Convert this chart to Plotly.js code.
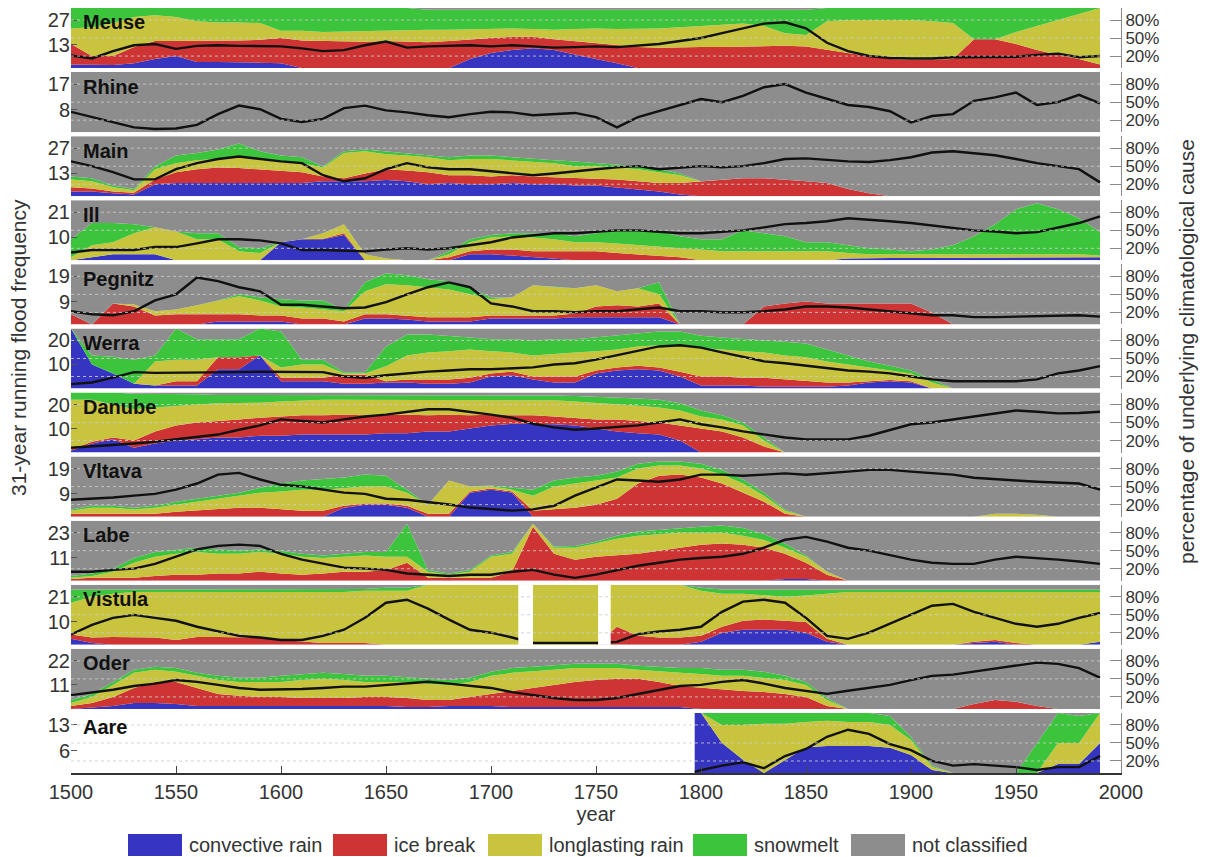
<!DOCTYPE html>
<html>
<head>
<meta charset="utf-8">
<script src="https://cdn.plot.ly/plotly-3.0.1.min.js"></script>
<style>html,body{margin:0;padding:0;background:#fff;}#chart{width:1209px;height:857px;}</style>
</head>
<body>
<div id="chart"></div>
<script>
// ---------------- DATA ----------------
const YEARS = [1500,1510,1520,1530,1540,1550,1560,1570,1580,1590,
               1600,1610,1620,1630,1640,1650,1660,1670,1680,1690,
               1700,1710,1720,1730,1740,1750,1760,1770,1780,1790,
               1800,1810,1820,1830,1840,1850,1860,1870,1880,1890,
               1900,1910,1920,1930,1940,1950,1960,1970,1980,1990];
const AARE_YEARS = [1797,1800,1810,1820,1830,1840,1850,1860,1870,1880,1890,
                    1900,1910,1920,1930,1940,1950,1960,1970,1980,1990];
const X_TICKS = [1500,1550,1600,1650,1700,1750,1800,1850,1900,1950,2000];
const PCT_TICKS = [20,50,80];
const PCT_LABELS = ['20%','50%','80%'];

const RIVERS = ['Meuse','Rhine','Main','Ill','Pegnitz','Werra','Danube','Vltava','Labe','Vistula','Oder','Aare'];
// left-axis tick labels (running flood frequency) per river
const FREQ_TICKS = [[13,27],[8,17],[13,27],[10,21],[9,19],[10,20],[10,20],[9,19],[11,23],[10,21],[11,22],[6,13]];

const CATEGORIES = ['convective rain','ice break','longlasting rain','snowmelt','not classified'];
const CAT_COLORS = ['#3535c2','#cf3434','#c9c43e','#3cc43c','#8d8d8d'];

// Band values are cumulative upper edges in % (convective <= ice <= longlasting <= snowmelt); the rest is "not classified".
const meuseFreq = [7.1,5.4,9.5,12.8,13.5,10.8,12.5,12.8,12.5,12.5, 12.2,11.1,9.5,10.1,12.8,14.9,11.5,12.2,12.5,12.8, 12.2,12.8,12.2,11.5,11.8,12.2,11.8,12.5,13.5,15.2, 16.9,19.6,22.3,25.0,25.7,22.3,14.2,9.5,6.8,5.7, 5.4,5.4,6.1,6.1,6.4,6.4,7.4,8.1,6.1,6.8];
const meuseConv = [6,6,5,8,15,20,10,10,10,9, 8,0,0,0,0,0,0,0,0,15, 25,30,33,30,22,15,8,0,0,0, 0,0,0,0,0,0,0,0,0,0, 0,0,0,0,0,0,0,0,0,0];
const meuseIce  = [40,20,20,35,45,45,45,46,46,47, 50,46,45,45,44,45,44,43,45,48, 50,52,52,48,45,42,38,35,34,35, 35,35,36,37,37,36,30,25,20,15, 14,14,15,48,48,40,30,22,15,6];
const meuseLong = [66,68,75,85,88,85,78,76,76,75, 62,62,60,61,62,62,63,64,64,65, 66,66,65,64,65,66,65,65,66,68, 70,72,74,70,58,55,78,80,80,80, 80,78,75,48,48,60,70,80,90,100];
const meuseSnow = [100,100,100,100,100,100,100,100,100,100, 100,100,100,100,100,100,100,97,97,97, 97,97,97,97,97,97,97,97,97,97, 97,97,97,97,97,97,100,100,100,100, 100,100,100,100,100,100,100,100,100,100];

const rhineFreq = [7.2,5.3,3.6,1.7,1.1,1.3,2.6,6.4,9.4,8.1, 4.7,3.6,4.7,8.5,9.4,7.7,7.0,6.0,5.3,6.4, 7.2,7.0,6.0,6.4,6.8,5.3,1.7,5.3,7.4,9.6, 11.7,10.6,12.8,15.9,17.0,14.0,11.7,9.6,8.9,7.4, 3.4,5.7,6.4,11.1,12.3,14.0,9.6,10.6,13.2,10.2];
const rhineConv = [0,0,0,0,0,0,0,0,0,0, 0,0,0,0,0,0,0,0,0,0, 0,0,0,0,0,0,0,0,0,0, 0,0,0,0,0,0,0,0,0,0, 0,0,0,0,0,0,0,0,0,0];
const rhineIce  = [0,0,0,0,0,0,0,0,0,0, 0,0,0,0,0,0,0,0,0,0, 0,0,0,0,0,0,0,0,0,0, 0,0,0,0,0,0,0,0,0,0, 0,0,0,0,0,0,0,0,0,0];
const rhineLong = [0,0,0,0,0,0,0,0,0,0, 0,0,0,0,0,0,0,0,0,0, 0,0,0,0,0,0,0,0,0,0, 0,0,0,0,0,0,0,0,0,0, 0,0,0,0,0,0,0,0,0,0];
const rhineSnow = [0,0,0,0,0,0,0,0,0,0, 0,0,0,0,0,0,0,0,0,0, 0,0,0,0,0,0,0,0,0,0, 0,0,0,0,0,0,0,0,0,0, 0,0,0,0,0,0,0,0,0,0];

const mainFreq = [19.6,16.9,13.5,9.5,9.5,15.2,18.6,20.9,22.3,20.9, 19.6,18.6,11.8,8.4,10.1,15.2,18.6,16.2,15.2,15.2, 14.2,12.8,11.8,12.8,14.2,15.2,16.2,16.9,15.2,16.2, 16.9,16.2,16.9,18.6,20.9,21.3,20.3,19.6,19.2,20.3, 21.9,24.6,25.3,24.3,23.0,20.9,18.6,16.9,15.2,7.8];
const mainConv = [8,8,5,3,20,22,22,22,21,21, 21,22,25,25,25,27,25,20,22,20, 20,22,20,20,18,18,15,12,8,3, 0,0,0,0,0,0,0,0,0,0, 0,0,0,0,0,0,0,0,0,0];
const mainIce  = [15,13,8,6,28,40,45,48,47,45, 42,40,33,30,38,45,43,40,35,35, 33,35,33,32,30,30,28,25,22,22, 25,28,30,30,28,25,22,12,5,0, 0,0,0,0,0,0,0,0,0,0];
const mainLong = [28,25,15,10,45,55,60,62,65,62, 58,55,48,72,75,70,68,65,60,62, 62,60,58,55,50,50,48,45,40,35, 25,28,30,30,28,25,22,12,5,0, 0,0,0,0,0,0,0,0,0,0];
const mainSnow = [33,30,18,12,50,68,72,78,88,75, 68,65,50,75,78,75,72,68,65,68, 68,65,62,60,58,55,52,50,45,38, 25,28,30,30,28,25,22,12,5,0, 0,0,0,0,0,0,0,0,0,0];

const illFreq = [3.4,4.5,4.5,4.5,5.8,5.8,7.4,9.2,9.2,8.7, 7.4,4.5,4.5,4.2,3.9,4.7,5.3,4.7,5.3,6.6, 7.9,10.0,11.0,11.8,11.8,12.6,13.1,13.1,12.6,11.8, 11.8,12.6,13.1,14.4,15.8,16.3,17.1,18.4,17.9,17.1, 16.3,15.2,14.4,13.1,12.6,11.8,12.3,14.4,16.3,19.2];
const illConv = [0,5,10,10,10,0,0,0,0,0, 30,35,35,42,0,0,0,0,0,10, 10,8,5,3,0,0,0,0,0,0, 0,0,0,0,0,0,0,3,4,4, 4,4,4,4,4,5,5,5,5,5];
const illIce  = [0,5,10,10,10,0,0,0,0,0, 30,35,36,45,0,0,0,0,5,15, 18,18,15,15,15,15,12,10,8,5, 0,0,0,0,0,0,0,3,4,4, 4,4,4,4,4,5,5,5,5,5];
const illLong = [5,25,30,45,55,48,35,35,15,12, 30,35,45,60,10,3,0,0,10,30, 38,40,38,35,30,30,28,25,22,20, 18,15,15,15,15,15,15,12,10,10, 10,10,10,10,10,10,10,10,10,8];
const illSnow = [35,62,62,60,55,48,45,45,22,20, 30,35,45,60,10,3,0,0,15,35, 42,45,45,45,40,45,50,50,48,40, 35,35,50,45,40,30,30,25,20,18, 15,18,25,40,60,85,95,85,70,47];

const pegnitzFreq = [5.2,4.0,3.6,5.2,9.5,11.9,18.5,17.1,14.7,13.1, 7.8,7.8,7.1,6.4,6.7,8.8,11.9,14.7,16.6,14.7, 8.3,7.1,5.2,5.2,4.8,5.2,5.2,5.9,6.7,5.2, 5.2,4.8,4.8,5.2,5.9,7.1,7.1,6.7,5.9,5.2, 4.3,3.6,3.6,2.9,2.9,3.1,3.1,3.6,3.6,3.1];
const pegnitzConv = [0,0,0,0,0,0,0,5,5,5, 5,0,0,0,10,10,8,5,5,5, 10,10,10,10,12,12,12,12,12,0, 0,0,0,0,0,0,0,0,0,0, 0,0,0,0,0,0,0,0,0,0];
const pegnitzIce  = [17,0,35,30,15,17,17,17,17,15, 15,10,10,5,17,17,15,12,12,12, 15,15,15,15,18,30,32,30,35,0, 0,0,0,30,35,38,35,35,35,35, 35,20,0,0,0,0,0,0,0,0];
const pegnitzLong = [17,0,35,33,22,25,32,40,47,40, 30,28,25,22,55,67,65,62,58,50, 42,45,65,62,60,65,55,60,50,0, 0,0,0,30,35,38,35,35,35,35, 35,20,0,0,0,0,0,0,0,0];
const pegnitzSnow = [17,0,35,33,22,25,32,40,50,45, 42,40,40,25,70,85,82,75,72,60, 45,45,65,62,60,65,55,60,70,0, 0,0,0,30,35,38,35,35,35,35, 35,20,0,0,0,0,0,0,0,0];

const werraFreq = [1.8,2.5,4.5,6.8,6.5,6.5,6.8,6.8,6.8,7.0, 7.0,7.0,6.8,5.0,4.5,5.5,6.3,7.0,7.5,8.0, 8.0,8.3,8.8,10.0,10.5,12.0,13.8,15.5,17.5,18.0, 17.0,15.0,13.0,11.3,10.5,9.5,8.8,7.5,7.0,6.3, 5.0,3.8,3.0,3.0,3.0,3.0,3.8,6.3,7.5,9.3];
const werraConv = [100,40,25,8,5,5,5,32,32,55, 12,12,12,8,8,10,10,8,8,10, 20,22,15,10,10,25,30,32,30,20, 5,5,5,3,3,3,3,5,10,12, 10,0,0,0,0,0,0,0,0,0];
const werraIce  = [100,40,25,8,5,12,12,52,52,55, 18,18,18,23,23,12,15,15,15,18, 25,28,20,20,20,30,35,38,35,28, 20,20,18,18,15,12,10,10,12,14, 12,0,0,0,0,0,0,0,0,0];
const werraLong = [100,40,25,8,45,48,48,52,52,55, 35,40,40,25,25,37,55,60,62,65, 62,60,55,58,60,62,65,70,72,70, 68,65,62,60,55,52,45,40,35,30, 25,10,0,0,0,0,0,0,0,0];
const werraSnow = [100,55,53,48,55,100,82,82,82,100, 95,48,48,27,27,70,90,90,88,85, 82,82,80,82,82,85,88,92,95,95, 88,85,82,80,78,75,65,55,45,38, 30,15,0,0,0,0,0,0,0,0];

const danubeFreq = [2.0,2.5,3.0,3.8,4.5,5.5,6.3,7.5,9.5,11.3, 13.8,13.0,12.5,13.8,15.0,15.8,17.0,18.0,18.0,17.0, 15.8,14.5,12.0,10.5,9.5,10.0,10.5,11.3,12.5,13.8, 11.8,10.5,8.8,7.5,6.3,5.5,5.5,5.5,7.0,9.5, 11.8,12.5,13.8,15.0,16.3,17.5,17.0,16.3,16.5,17.0];
const danubeConv = [3,15,22,8,15,20,22,25,25,28, 28,30,30,30,30,32,32,35,35,40, 45,48,48,47,45,40,35,32,30,20, 0,0,0,0,0,0,0,0,0,0, 0,0,0,0,0,0,0,0,0,0];
const danubeIce  = [5,18,25,20,35,45,50,52,55,58, 60,62,62,63,62,63,63,62,63,62, 63,62,62,60,58,55,55,52,50,45, 40,35,25,10,0,0,0,0,0,0, 0,0,0,0,0,0,0,0,0,0];
const danubeLong = [88,88,80,72,75,78,80,82,82,83, 85,87,88,88,88,88,87,87,87,88, 88,88,88,87,85,83,80,78,75,70, 60,55,45,20,0,0,0,0,0,0, 0,0,0,0,0,0,0,0,0,0];
const danubeSnow = [100,100,100,98,98,97,97,96,96,95, 95,95,95,96,96,96,96,96,96,96, 96,96,96,95,94,93,92,90,88,82, 70,62,50,25,0,0,0,0,0,0, 0,0,0,0,0,0,0,0,0,0];

const vltavaFreq = [6.7,7.1,7.6,8.3,9.0,10.7,13.1,16.6,17.3,14.7, 12.6,11.9,10.7,9.5,9.0,7.1,6.7,5.9,4.8,3.6, 2.9,2.4,2.9,4.3,8.3,11.4,14.7,14.3,13.8,14.7, 16.6,16.6,16.2,16.6,17.1,16.6,17.1,17.8,18.5,18.5, 17.8,17.1,16.6,15.4,14.7,14.3,13.8,13.5,13.1,10.7];
const vltavaConv = [0,0,0,0,0,0,0,0,0,0, 0,0,0,15,20,20,15,0,0,40, 45,40,0,0,0,0,0,0,0,0, 0,0,0,0,0,0,0,0,0,0, 0,0,0,0,0,0,0,0,0,0];
const vltavaIce  = [5,5,5,5,5,8,10,12,15,15, 12,10,10,18,22,22,18,5,5,42, 47,42,10,12,15,20,30,55,68,70, 65,55,40,25,5,0,0,0,0,0, 0,0,0,0,0,0,0,0,0,0];
const vltavaLong = [10,15,15,12,15,20,25,30,35,40, 42,45,45,48,50,50,40,20,60,50, 50,45,35,50,55,60,65,80,85,85, 80,70,55,35,10,0,0,0,0,0, 0,0,0,0,5,5,3,0,0,0];
const vltavaSnow = [12,18,18,15,18,25,30,35,40,48, 55,60,62,65,70,68,45,20,60,50, 52,48,45,60,65,68,75,88,92,92, 88,78,62,40,12,0,0,0,0,0, 0,0,0,0,5,5,3,0,0,0];

const labeFreq = [4.3,4.3,5.2,5.8,8.1,11.5,15.0,16.7,17.3,16.7, 12.9,10.1,8.1,6.3,5.8,5.2,3.5,2.9,2.3,2.9, 2.9,4.3,5.2,2.9,1.4,2.9,5.2,7.2,8.6,10.1, 10.9,11.5,12.9,15.8,19.6,21.0,18.7,15.8,14.4,12.1, 10.1,8.6,8.1,8.1,10.1,11.5,10.9,10.1,9.2,8.1];
const labeConv = [0,0,0,0,0,0,0,0,0,0, 0,0,0,0,0,0,0,0,0,0, 0,0,0,0,0,0,0,0,0,0, 0,0,0,0,3,3,0,0,0,0, 0,0,0,0,0,0,0,0,0,0];
const labeIce  = [3,5,5,5,8,10,10,12,12,15, 12,10,12,15,15,18,30,5,5,5, 5,15,90,45,35,40,42,45,50,55, 60,62,60,55,45,30,10,0,0,0, 0,0,0,0,0,0,0,0,0,0];
const labeLong = [5,8,15,30,40,45,48,45,45,48, 45,40,38,40,42,40,40,15,10,15, 40,45,95,55,55,62,70,75,78,80, 80,80,75,68,55,40,15,0,0,0, 0,0,0,0,0,0,0,0,0,0];
const labeSnow = [8,12,20,38,48,52,55,52,50,52, 50,45,42,45,48,48,95,18,12,18, 42,48,95,57,58,65,75,82,85,88, 90,92,88,78,62,42,15,0,0,0, 0,0,0,0,0,0,0,0,0,0];

const vistulaFreq = [4.5,8.7,11.8,13.1,11.8,10.5,7.9,5.8,3.9,3.2, 2.1,2.1,3.9,6.6,11.8,18.4,19.7,15.8,11.0,6.6, 5.3,3.2,0.8,0.8,0.8,0.8,1.3,4.7,5.8,6.6, 7.9,14.4,18.9,19.7,18.4,11.8,3.9,2.6,5.3,9.2, 13.1,17.1,17.9,14.4,11.8,9.2,7.9,9.2,11.8,13.9];
const vistulaConv = [10,3,0,0,0,0,0,0,0,0, 0,0,0,0,0,0,0,0,0,0, 0,0,0,0,0,0,0,0,0,0, 5,20,25,25,25,20,5,0,0,0, 0,0,0,3,5,0,0,0,0,5];
const vistulaIce  = [17,12,13,13,12,8,13,13,12,12, 8,5,3,3,3,0,0,0,0,0, 0,0,0,0,0,0,30,15,12,12, 15,30,40,42,40,38,10,0,0,0, 0,0,0,5,8,3,0,0,0,5];
const vistulaLong = [70,80,85,88,88,88,88,88,88,88, 88,88,88,88,90,90,90,100,100,100, 100,100,100,100,100,100,100,100,100,100, 90,85,85,82,80,82,85,88,88,88, 88,88,88,88,88,88,88,88,88,88];
const vistulaSnow = [92,92,92,92,92,92,92,92,92,92, 92,92,92,92,93,95,95,100,100,100, 100,100,100,100,100,100,100,100,100,100, 95,92,92,92,92,92,92,92,92,92, 92,92,92,92,92,92,92,92,92,92];
const VISTULA_GAPS = [[1713,1720],[1751,1757]];

const oderFreq = [6.3,7.4,8.8,10.5,11.6,13.2,12.4,11.0,9.6,8.8, 8.8,9.1,9.6,10.2,10.2,11.0,11.6,12.4,11.6,10.5, 9.6,7.7,6.3,5.0,4.1,4.1,5.0,6.9,8.8,10.5, 11.0,12.4,13.2,11.6,9.6,8.3,6.9,8.3,9.6,11.0, 13.2,15.1,15.7,17.1,18.7,19.8,21.2,20.6,18.7,14.3];
const oderConv = [0,3,5,10,10,8,5,5,5,5, 5,5,5,5,5,5,3,3,5,5, 5,3,3,3,3,3,3,3,3,3, 0,0,0,0,0,0,0,0,0,0, 0,0,0,0,0,0,0,0,0,0];
const oderIce  = [5,10,20,35,45,45,35,25,22,20, 20,18,18,18,20,20,18,15,15,20, 25,30,35,40,45,48,50,50,45,38, 35,32,30,28,25,20,5,0,0,0, 0,0,0,8,15,12,5,0,0,0];
const oderLong = [10,20,40,60,65,62,55,48,45,45, 45,48,50,48,45,45,45,42,40,45, 55,60,62,65,68,68,68,65,62,60, 58,55,55,52,48,40,15,0,0,0, 0,0,0,8,15,12,5,0,0,0];
const oderSnow = [15,25,45,65,70,68,60,55,52,52, 55,58,60,58,55,55,52,50,48,52, 62,68,70,72,75,75,75,72,70,68, 68,65,65,62,55,45,18,0,0,0, 0,0,0,8,15,12,5,0,0,0];

const aareFreq = [0.3,0.8,2.0,2.9,1.3,4.6,6.5,9.8,11.7,10.6,7.8, 6.2,3.3,2.0,2.4,2.0,1.6,0.8,1.6,1.6,4.6];
const aareConv = [100,100,50,22,0,22,43,45,45,45,42, 30,5,0,0,0,0,0,15,15,50];
const aareIce  = [100,100,50,22,0,22,43,45,45,45,42, 30,5,0,0,0,0,0,15,15,50];
const aareLong = [100,100,80,80,82,82,85,87,85,85,80, 55,10,0,0,0,0,0,50,50,100];
const aareSnow = [100,100,100,100,100,100,100,100,100,100,95, 60,12,0,0,0,0,50,100,95,100];

// ---------------- BUILD ----------------
const SERIES = [
  {years: YEARS, freq: meuseFreq, bands: [meuseConv, meuseIce, meuseLong, meuseSnow]},
  {years: YEARS, freq: rhineFreq, bands: [rhineConv, rhineIce, rhineLong, rhineSnow]},
  {years: YEARS, freq: mainFreq, bands: [mainConv, mainIce, mainLong, mainSnow]},
  {years: YEARS, freq: illFreq, bands: [illConv, illIce, illLong, illSnow]},
  {years: YEARS, freq: pegnitzFreq, bands: [pegnitzConv, pegnitzIce, pegnitzLong, pegnitzSnow]},
  {years: YEARS, freq: werraFreq, bands: [werraConv, werraIce, werraLong, werraSnow]},
  {years: YEARS, freq: danubeFreq, bands: [danubeConv, danubeIce, danubeLong, danubeSnow]},
  {years: YEARS, freq: vltavaFreq, bands: [vltavaConv, vltavaIce, vltavaLong, vltavaSnow]},
  {years: YEARS, freq: labeFreq, bands: [labeConv, labeIce, labeLong, labeSnow]},
  {years: YEARS, freq: vistulaFreq, bands: [vistulaConv, vistulaIce, vistulaLong, vistulaSnow], gaps: VISTULA_GAPS},
  {years: YEARS, freq: oderFreq, bands: [oderConv, oderIce, oderLong, oderSnow]},
  {years: AARE_YEARS, freq: aareFreq, bands: [aareConv, aareIce, aareLong, aareSnow]}
];

const FONT = 'Liberation Sans, Arial, Helvetica, sans-serif';
const TXT = '#333333';
const W = 1209, H = 857;
const M = {l: 71, r: 88, t: 8, b: 84};
const PW = W - M.l - M.r, PH = H - M.t - M.b;
const px = v => (v - M.l) / PW;
const py = v => 1 - (v - M.t) / PH;

const n = RIVERS.length;
const GAP = 4;
const panelH = (PH - GAP * (n - 1)) / n;

const traces = [];
const shapes = [];
const annotations = [];
const layout = {
  width: W, height: H,
  margin: M,
  paper_bgcolor: '#ffffff',
  plot_bgcolor: 'rgba(0,0,0,0)',
  showlegend: false,
  font: {family: FONT, color: TXT, size: 20},
  xaxis: {
    range: [1500, 2000], tickvals: X_TICKS, ticks: 'inside', ticklen: 7, tickcolor: '#444',
    showline: true, linecolor: '#333', linewidth: 1.5, showgrid: false, zeroline: false,
    tickfont: {size: 20, color: TXT, family: FONT},
    anchor: 'y' + (2 * (n - 1) + 1),
    title: {text: 'year', font: {size: 20, color: TXT, family: FONT}, standoff: 2}
  }
};

const gridShapes = [];
RIVERS.forEach((name, i) => {
  const k1 = 2 * i + 1, k2 = 2 * i + 2;
  const pctId = k1 === 1 ? 'y' : 'y' + k1;
  const freqId = 'y' + k2;
  const topPx = i * (panelH + GAP);
  const domain = [1 - (topPx + panelH) / PH, 1 - topPx / PH];
  const s = SERIES[i];
  const ft = FREQ_TICKS[i];

  layout[k1 === 1 ? 'yaxis' : 'yaxis' + k1] = {
    domain: domain, range: [0, 100], side: 'right', anchor: 'x',
    tickvals: PCT_TICKS, ticktext: PCT_LABELS, ticks: 'inside', ticklen: 11, tickcolor: '#888',
    showline: true, linecolor: '#8a8a8a', linewidth: 1, showgrid: false, zeroline: false,
    tickfont: {size: 17, color: TXT, family: FONT}, fixedrange: true
  };
  layout['yaxis' + k2] = {
    overlaying: pctId, side: 'left', anchor: 'x',
    range: [0, ft[1] / 0.8], tickvals: ft, ticks: 'inside', ticklen: 6, tickcolor: '#555',
    showline: false, showgrid: false, zeroline: false,
    tickfont: {size: 20, color: TXT, family: FONT}, fixedrange: true
  };

  const full = s.bands[0].map(v => (v === null ? null : 100));
  const stack = s.bands.concat([full]);
  stack.forEach((b, j) => {
    traces.push({
      type: 'scatter', mode: 'lines', x: s.years, y: b,
      xaxis: 'x', yaxis: pctId,
      line: {width: 0, color: CAT_COLORS[j], shape: 'linear'},
      fill: j === 0 ? 'tozeroy' : 'tonexty', fillcolor: CAT_COLORS[j],
      name: CATEGORIES[j], hoverinfo: 'skip', showlegend: false
    });
  });
  traces.push({
    type: 'scatter', mode: 'lines', x: s.years, y: s.freq,
    xaxis: 'x', yaxis: freqId,
    line: {color: '#111', width: 2.4}, name: name + ' flood frequency', showlegend: false
  });

  if (s.gaps) {
    s.gaps.forEach(g => shapes.push({
      type: 'rect', xref: 'x', yref: pctId + ' domain', x0: g[0], x1: g[1], y0: 0, y1: 1,
      fillcolor: '#ffffff', line: {width: 0}, layer: 'above'
    }));
  }
  PCT_TICKS.forEach(v => gridShapes.push({
    type: 'line', xref: 'x', yref: pctId, x0: YEARS[0], x1: YEARS[YEARS.length - 1], y0: v, y1: v,
    line: {color: 'rgba(205,205,205,0.85)', width: 1, dash: 'dot'}, layer: 'above'
  }));

  annotations.push({
    text: '<b>' + name + '</b>', xref: 'paper', yref: pctId + ' domain',
    x: px(81), y: 0.76, xanchor: 'left', yanchor: 'middle', showarrow: false,
    font: {size: 20, color: '#111', family: FONT}
  });
});

// axis titles
annotations.push({
  text: '31-year running flood frequency', xref: 'paper', yref: 'paper',
  x: px(18), y: py(348), textangle: -90, showarrow: false, xanchor: 'center', yanchor: 'middle',
  font: {size: 21, color: TXT, family: FONT}
});
annotations.push({
  text: 'percentage of underlying climatological cause', xref: 'paper', yref: 'paper',
  x: px(1187), y: py(352), textangle: -90, showarrow: false, xanchor: 'center', yanchor: 'middle',
  font: {size: 21, color: TXT, family: FONT}
});

// legend (custom, below the chart)
const LEGEND_X = [128, 333, 488, 693, 851];
const LEGEND_BOX = 54;
CATEGORIES.forEach((c, j) => {
  shapes.push({
    type: 'rect', xref: 'paper', yref: 'paper',
    x0: px(LEGEND_X[j]), x1: px(LEGEND_X[j] + LEGEND_BOX), y0: py(856), y1: py(834),
    fillcolor: CAT_COLORS[j], line: {width: 0}, layer: 'above'
  });
  annotations.push({
    text: c, xref: 'paper', yref: 'paper', x: px(LEGEND_X[j] + LEGEND_BOX + 5), y: py(845),
    xanchor: 'left', yanchor: 'middle', showarrow: false,
    font: {size: 20, color: TXT, family: FONT}
  });
});

layout.shapes = shapes.concat(gridShapes);
layout.annotations = annotations;

Plotly.newPlot('chart', traces, layout, {displayModeBar: false, staticPlot: true});
</script>
</body>
</html>
